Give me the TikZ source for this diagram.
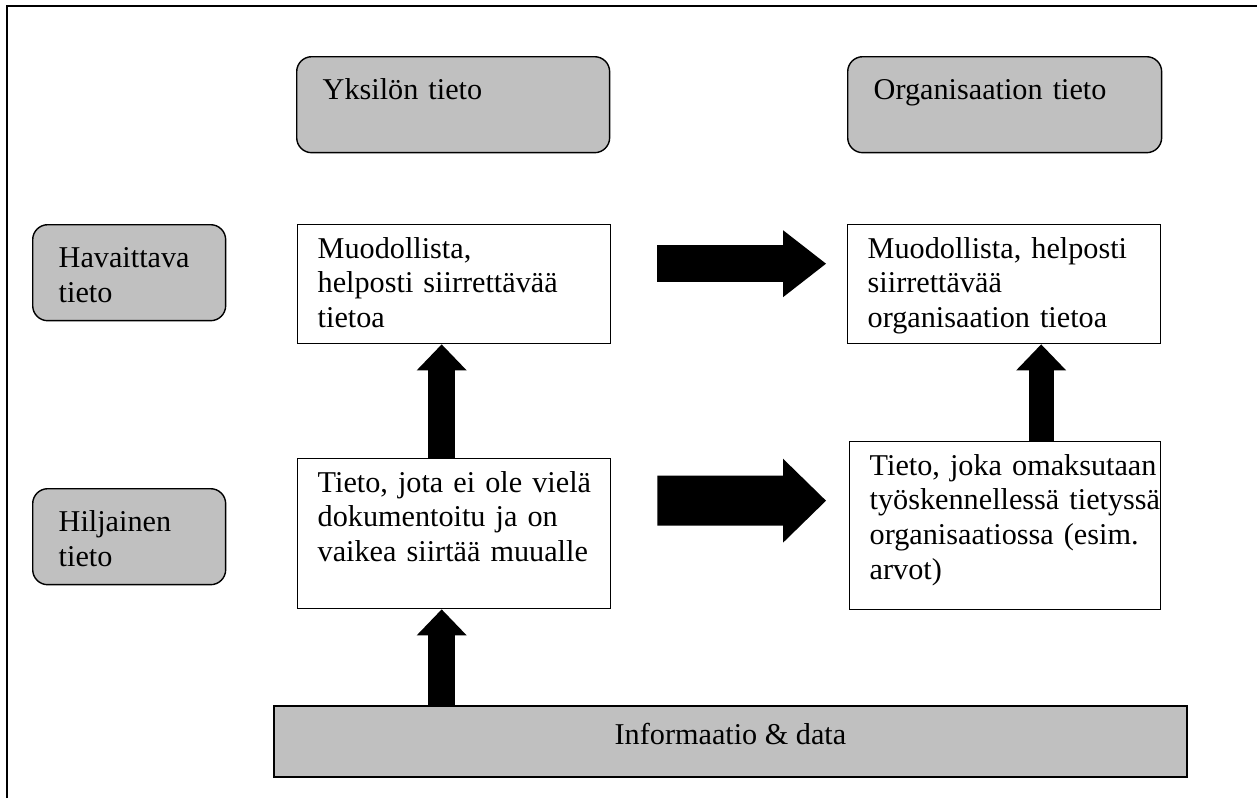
\documentclass[tikz,border=0pt]{standalone}
\usepackage{fontspec}
\setmainfont{Liberation Serif}
\usetikzlibrary{arrows.meta}
\definecolor{boxgray}{RGB}{192,192,192}
\tikzset{
  headbox/.style={draw, fill=boxgray, rounded corners=0.3cm, line width=0.8pt,
    anchor=north west, align=left, inner ysep=0pt, inner xsep=0.52cm,
    text width=#1, text height=0.86cm, text depth=1.06cm},
  textbox/.style 2 args={draw, fill=white, line width=0.8pt,
    anchor=north west, align=left, inner ysep=0pt, inner xsep=0.4cm,
    text width=#1, text height=0.67cm, text depth=#2,
    execute at begin node={\rightskip=-2cm plus 1fil\hyphenpenalty=10000\relax}},
  infobox/.style={draw, fill=boxgray, line width=1.2pt, anchor=north west,
    inner sep=0pt, text depth=9pt, minimum width=18.26cm, minimum height=1.42cm},
  blockarrow/.style n args={3}{line width=#1,
    -{Triangle[length=#2, width=#3, line width=0pt]}}
}
\begin{document}
\begin{tikzpicture}[x=0.02cm, y=-0.02cm,
    font=\fontsize{17.2pt}{19.8pt}\selectfont]
  \useasboundingbox (0,0) rectangle (1257,798);
  \draw[line width=1.1pt] (7,798) -- (7,6) -- (1257,6);

  \node[headbox=5.22cm] (yksilo) at (296,56) {Yksilön tieto};
  \node[headbox=5.24cm] (organisaatio) at (847,56) {Organisaation tieto};
  \node[headbox=2.82cm] (havaittava) at (32,224) {Havaittava\\ tieto};
  \node[headbox=2.82cm] (hiljainen) at (32,488) {Hiljainen\\ tieto};

  \node[textbox={5.46cm}{1.71cm}] (muodL) at (297,224)
    {Muodollista,\\ helposti siirrettävää\\ tietoa};
  \node[textbox={5.46cm}{1.71cm}] (muodR) at (847,224)
    {Muodollista, helposti\\ siirrettävää\\ organisaation tietoa};
  \node[textbox={5.46cm}{2.33cm}] (tietoL) at (297,458)
    {Tieto, jota ei ole vielä\\ dokumentoitu ja on\\ vaikea siirtää muualle};
  \node[textbox={5.42cm}{2.69cm}] (tietoR) at (849,441)
    {Tieto, joka omaksutaan\\ työskennellessä tietyssä\\ organisaatiossa (esim.\\ arvot)};

  \node[infobox] (info) at (273,705) {Informaatio \& data};

  \coordinate (feedL) at ([xshift=-0.25cm]tietoL.south);
  \coordinate (riseR) at ([xshift=0.72cm]tietoR.north);

  \draw[blockarrow={0.74cm}{0.86cm}{1.34cm}]
    ([shift={(46,-20.5)}]muodL.east) -- ([shift={(-21,-20.5)}]muodR.west);
  \draw[blockarrow={1.0cm}{0.86cm}{1.68cm}]
    ([shift={(46,-33)}]tietoL.east) -- ([shift={(-23,-25)}]tietoR.west);
  \draw[blockarrow={0.54cm}{0.52cm}{1.0cm}]
    ([xshift=-0.25cm]tietoL.north) -- ([xshift=-0.25cm]muodL.south);
  \draw[blockarrow={0.54cm}{0.52cm}{1.0cm}] (feedL |- info.north) -- (feedL);
  \draw[blockarrow={0.5cm}{0.52cm}{1.0cm}] (riseR) -- (riseR |- muodR.south);
\end{tikzpicture}
\end{document}
